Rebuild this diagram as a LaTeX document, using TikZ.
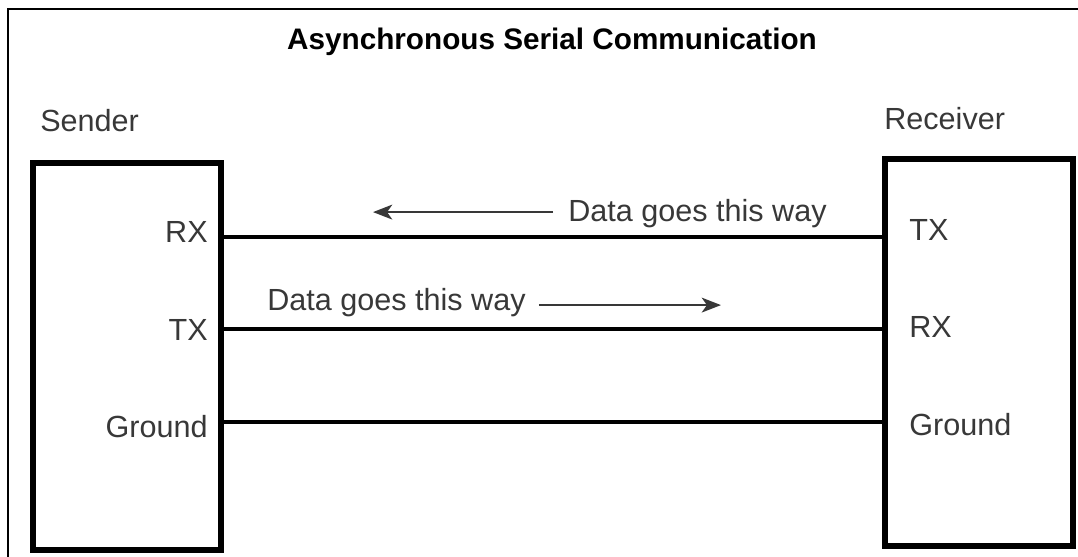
\documentclass[tikz,border=0pt]{standalone}
\usepackage{fontspec}
\setmainfont{Liberation Sans}
\usetikzlibrary{arrows.meta}
\definecolor{inkgray}{HTML}{383838}

\begin{document}
\begin{tikzpicture}[x=0.02cm,y=-0.02cm,>={Stealth[length=11pt,width=8.5pt,inset=3pt]},
    box/.style={draw,line width=3.4pt,inner sep=0pt,minimum width=3.76cm,minimum height=7.74cm},
    label text/.style={font=\fontsize{17.4}{21}\selectfont,text=inkgray,inner sep=0pt},
    wire/.style={line width=2.4pt},
    flow/.style={->,line width=1pt,draw=inkgray}]

    \useasboundingbox (0,0) rectangle (1078,557);
    \draw[line width=1.1pt] (8,600) -- (8,9) -- (1100,9);

    \node[font=\fontsize{16.9}{20}\selectfont\bfseries,inner sep=0pt,anchor=base] (title) at (552,50) {Asynchronous Serial Communication};

    \node[box]  (sender)   at (127,356.5) {};
    \node[box]  (receiver) at (979,352.5) {};

    \node[label text,anchor=base west] (sender name)   at (40,132)  {Sender};
    \node[label text,anchor=base west] (receiver name) at (884,130) {Receiver};

    % pins on both sides
    \node[label text,anchor=base east] (s rx)  at (208,242) {RX};
    \node[label text,anchor=base east] (s tx)  at (208,340) {TX};
    \node[label text,anchor=base east] (s gnd) at (208,437) {Ground};
    \node[label text,anchor=base west] (r tx)  at (909,240) {TX};
    \node[label text,anchor=base west] (r rx)  at (909,337) {RX};
    \node[label text,anchor=base west] (r gnd) at (909,435) {Ground};

    \coordinate (rx wire)  at (0,237);
    \coordinate (tx wire)  at (0,329);
    \coordinate (gnd wire) at (0,422);

    \path[wire]
        (sender.east |- rx wire)  edge (receiver.west |- rx wire)
        (sender.east |- tx wire)  edge (receiver.west |- tx wire)
        (sender.east |- gnd wire) edge (receiver.west |- gnd wire)
    ;

    \node[label text,anchor=base west] (note back) at (568,222) {Data goes this way};
    \node[label text,anchor=base west] (note fwd)  at (267,310) {Data goes this way};

    \draw[flow] (note back.west) ++(-15,-2) -- ++(-180,0);
    \draw[flow] (note fwd.east) ++(13,3) -- ++(182,0);
\end{tikzpicture}
\end{document}
